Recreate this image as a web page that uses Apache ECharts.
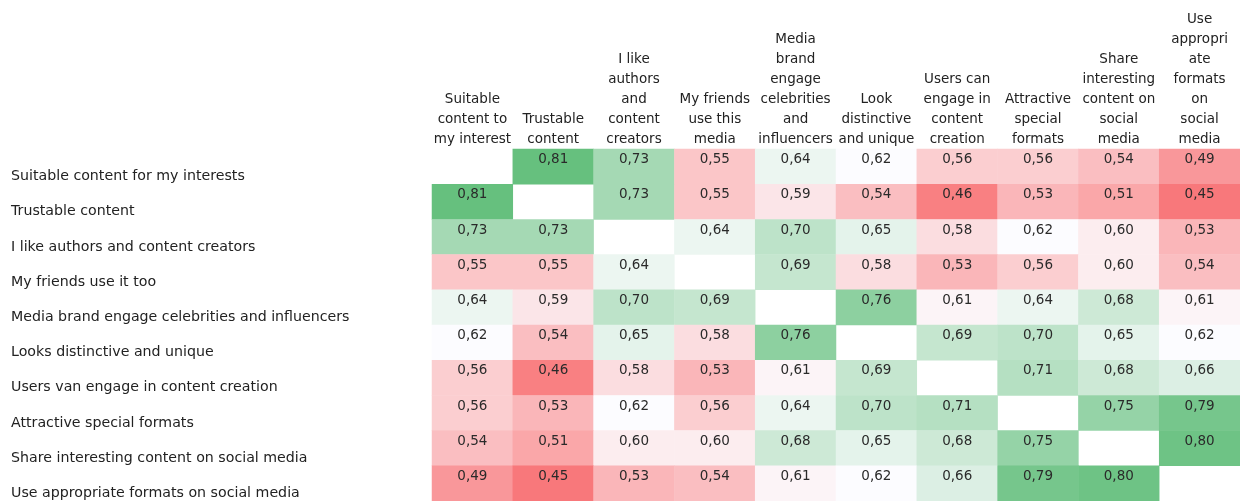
<!DOCTYPE html>
<html>
<head>
<meta charset="utf-8">
<script src="https://cdn.jsdelivr.net/npm/echarts@6/dist/echarts.min.js"></script>
<style>html,body{margin:0;padding:0;background:#fff}#c{width:1240px;height:501px}</style>
</head>
<body>
<div id="c"></div>
<script>
const colLabels = [
  "Suitable\ncontent to\nmy interest",
  "Trustable\ncontent",
  "I like\nauthors\nand\ncontent\ncreators",
  "My friends\nuse this\nmedia",
  "Media\nbrand\nengage\ncelebrities\nand\ninfluencers",
  "Look\ndistinctive\nand unique",
  "Users can\nengage in\ncontent\ncreation",
  "Attractive\nspecial\nformats",
  "Share\ninteresting\ncontent on\nsocial\nmedia",
  "Use\nappropri\nate\nformats\non\nsocial\nmedia"
];
const rowLabels = [
  "Suitable content for my interests",
  "Trustable content",
  "I like authors and content creators",
  "My friends use it too",
  "Media brand engage celebrities and influencers",
  "Looks distinctive and unique",
  "Users van engage in content creation",
  "Attractive special formats",
  "Share interesting content on social media",
  "Use appropriate formats on social media"
];
const row0 = [null, 0.81, 0.73, 0.55, 0.64, 0.62, 0.56, 0.56, 0.54, 0.49];
const row1 = [0.81, null, 0.73, 0.55, 0.59, 0.54, 0.46, 0.53, 0.51, 0.45];
const row2 = [0.73, 0.73, null, 0.64, 0.70, 0.65, 0.58, 0.62, 0.60, 0.53];
const row3 = [0.55, 0.55, 0.64, null, 0.69, 0.58, 0.53, 0.56, 0.60, 0.54];
const row4 = [0.64, 0.59, 0.70, 0.69, null, 0.76, 0.61, 0.64, 0.68, 0.61];
const row5 = [0.62, 0.54, 0.65, 0.58, 0.76, null, 0.69, 0.70, 0.65, 0.62];
const row6 = [0.56, 0.46, 0.58, 0.53, 0.61, 0.69, null, 0.71, 0.68, 0.66];
const row7 = [0.56, 0.53, 0.62, 0.56, 0.64, 0.70, 0.71, null, 0.75, 0.79];
const row8 = [0.54, 0.51, 0.60, 0.60, 0.68, 0.65, 0.68, 0.75, null, 0.80];
const row9 = [0.49, 0.45, 0.53, 0.54, 0.61, 0.62, 0.66, 0.79, 0.80, null];
const rows = [row0,row1,row2,row3,row4,row5,row6,row7,row8,row9];

const data = [];
rows.forEach((r, yi) => r.forEach((v, xi) => { if (v !== null) data.push([xi, yi, v]); }));

const font = '"DejaVu Sans", "Noto Sans", sans-serif';
const chart = echarts.init(document.getElementById('c'), null, {renderer: 'canvas'});
chart.setOption({
  animation: false,
  backgroundColor: '#ffffff',
  grid: {left: 432, top: 149, width: 832, height: 358},
  xAxis: {
    type: 'category', data: colLabels, position: 'top',
    axisLine: {show: false}, axisTick: {show: false}, splitLine: {show: false},
    axisLabel: {interval: 0, margin: 0, color: '#222', fontFamily: font, fontSize: 13.5, lineHeight: 20, align: 'center'}
  },
  yAxis: {
    type: 'category', data: rowLabels, inverse: true,
    axisLine: {show: false}, axisTick: {show: false}, splitLine: {show: false},
    axisLabel: {interval: 0, margin: 421, align: 'left', verticalAlign: 'top', color: '#222', fontFamily: font, fontSize: 14.2, padding: [3, 0, 0, 0]}
  },
  visualMap: {
    show: false, type: 'continuous', min: 0.43, max: 0.81, dimension: 2,
    inRange: {color: ['#f8696b', '#fcfcff', '#66c07e']}
  },
  series: [{
    type: 'heatmap', data: data,
    itemStyle: {borderWidth: 0},
    label: {
      show: true, position: 'insideTop', distance: 4,
      color: '#2a2a2a', fontFamily: font, fontSize: 13.5,
      formatter: p => p.value[2].toFixed(2).replace('.', ',')
    },
    emphasis: {disabled: true}
  }]
});
</script>
</body>
</html>
